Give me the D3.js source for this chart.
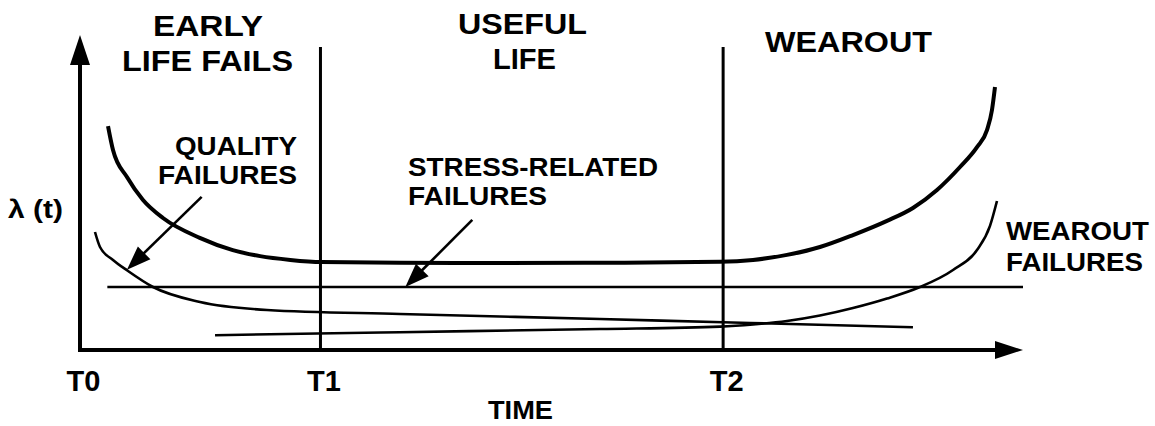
<!DOCTYPE html>
<html>
<head>
<meta charset="utf-8">
<script src="https://cdn.jsdelivr.net/npm/d3@7/dist/d3.min.js"></script>
<style>
  html, body { margin: 0; padding: 0; background: #fff; }
  svg { display: block; }
  text { font-family: "Liberation Sans", Arial, Helvetica, sans-serif; font-weight: bold; fill: #000; }
</style>
</head>
<body>
<svg id="chart" width="1155" height="426"></svg>
<script>
// Phase boundaries on the time axis
const phaseTicks = ["T0", "T1", "T2"];
const phaseTimes = [0, 25.5, 68.2];

// Overall failure rate (bathtub curve)
const bathtubT    = [2.97, 3.5, 4.98, 6.68, 8.8, 12.7, 16.2, 19.1, 22.3, 25.6, 33.93, 44.54, 55.14, 67.87, 71.37, 74.97, 78.47, 81.97, 85.58, 88.33, 90.88, 93.32, 95.12, 96.18, 96.71, 97.03];
const bathtubRate = [71.1, 63.5, 54.9, 47.6, 41.9, 35.6, 31.7, 29.8, 28.6, 27.9, 27.68, 27.62, 27.68, 28.0, 28.6, 30.2, 32.7, 36.5, 41.0, 45.1, 50.8, 58.1, 64.4, 69.8, 76.2, 83.5];

// Quality failures (decreasing)
const qualityT    = [1.59, 2.12, 3.5, 5.09, 7.74, 12.73, 19.83, 33.93, 55.14, 68.19, 76.35, 88.33];
const qualityRate = [37.46, 32.7, 28.57, 25.08, 20.0, 15.24, 12.7, 11.43, 9.84, 8.79, 8.16, 7.21];

// Stress-related failures (constant)
const stressT    = [2.9, 100];
const stressRate = [20, 20];

// Wearout failures (increasing)
const wearoutT    = [14.32, 33.93, 55.14, 67.87, 71.37, 74.97, 78.47, 81.97, 85.58, 89.08, 92.58, 95.12, 96.5, 97.24];
const wearoutRate = [4.70, 5.65, 6.67, 7.43, 8.10, 9.21, 10.95, 13.33, 16.35, 20.0, 25.4, 31.75, 39.4, 47.3];

// Annotation arrows: [fromT, fromRate, toT, toRate]
const qualityArrow = [12.9, 48.6, 4.98, 25.5];
const stressArrow  = [41.6, 41.3, 34.5, 20.0];

const svg = d3.select("#chart");
const x = d3.scaleLinear().domain([0, 100]).range([80, 1023]);
const y = d3.scaleLinear().domain([0, 100]).range([350, 35]);

const zip = (ts, vs) => ts.map((t, i) => [t, vs[i]]);
const line = d3.line().x(d => x(d[0])).y(d => y(d[1])).curve(d3.curveMonotoneX);

// Filled arrowhead pointing from (x1,y1) to tip (x2,y2)
function arrowHead(g, x1, y1, x2, y2, len, half) {
  const a = Math.atan2(y2 - y1, x2 - x1);
  const bx = x2 - len * Math.cos(a), by = y2 - len * Math.sin(a);
  const px = -Math.sin(a) * half, py = Math.cos(a) * half;
  g.append("path")
    .attr("d", `M${x2},${y2}L${bx + px},${by + py}L${bx - px},${by - py}Z`)
    .attr("fill", "#000");
}

// Phase divider lines
svg.selectAll("line.phase")
  .data(phaseTimes.slice(1))
  .join("line")
  .attr("class", "phase")
  .attr("x1", d => x(d)).attr("x2", d => x(d))
  .attr("y1", y(96.2)).attr("y2", y(0))
  .attr("stroke", "#000").attr("stroke-width", 3);

// Axes with arrowheads
const axes = svg.append("g");
axes.append("line").attr("x1", x(0)).attr("x2", x(100) - 20).attr("y1", y(0)).attr("y2", y(0))
  .attr("stroke", "#000").attr("stroke-width", 4);
arrowHead(axes, x(0), y(0), x(100), y(0), 28, 9);
axes.append("line").attr("x1", x(0)).attr("x2", x(0)).attr("y1", y(0) + 2).attr("y2", y(100) + 20)
  .attr("stroke", "#000").attr("stroke-width", 4);
arrowHead(axes, x(0), y(0), x(0), y(100), 30, 10);

// Tick labels T0, T1, T2
const xAxis = d3.axisBottom(x)
  .tickValues(phaseTimes)
  .tickFormat((d, i) => phaseTicks[i])
  .tickSize(0)
  .tickPadding(20);
const gx = svg.append("g").attr("transform", `translate(0,${y(0)})`).call(xAxis);
gx.select(".domain").remove();
gx.selectAll("text")
  .attr("dx", 3)
  .style("font-size", "29px")
  .style("font-family", "'Liberation Sans', Arial, sans-serif")
  .style("font-weight", "bold")
  .attr("fill", "#000");

// Curves
svg.append("path").datum(zip(stressT, stressRate)).attr("d", d3.line().x(d => x(d[0])).y(d => y(d[1])))
  .attr("fill", "none").attr("stroke", "#000").attr("stroke-width", 2.5);
svg.append("path").datum(zip(qualityT, qualityRate)).attr("d", line)
  .attr("fill", "none").attr("stroke", "#000").attr("stroke-width", 2.6);
svg.append("path").datum(zip(wearoutT, wearoutRate)).attr("d", line)
  .attr("fill", "none").attr("stroke", "#000").attr("stroke-width", 2.6);
svg.append("path").datum(zip(bathtubT, bathtubRate)).attr("d", line)
  .attr("fill", "none").attr("stroke", "#000").attr("stroke-width", 4);

// Annotation arrows
[qualityArrow, stressArrow].forEach(a => {
  const x1 = x(a[0]), y1 = y(a[1]), x2 = x(a[2]), y2 = y(a[3]);
  const ang = Math.atan2(y2 - y1, x2 - x1);
  svg.append("line")
    .attr("x1", x1).attr("y1", y1)
    .attr("x2", x2 - 18 * Math.cos(ang)).attr("y2", y2 - 18 * Math.sin(ang))
    .attr("stroke", "#000").attr("stroke-width", 2.6);
  arrowHead(svg, x1, y1, x2, y2, 24, 9);
});

// Labels: [text, left x, baseline y, width, font size]
const labels = [
  ["EARLY", 153, 36, 110, 29],
  ["LIFE FAILS", 122, 71, 171, 29],
  ["USEFUL", 458, 34, 129, 29],
  ["LIFE", 493, 69, 63, 29],
  ["WEAROUT", 765, 52, 167, 29],
  ["QUALITY", 175, 155, 122, 26],
  ["FAILURES", 158, 184, 139, 26],
  ["STRESS-RELATED", 408, 176, 250, 25],
  ["FAILURES", 408, 205, 139, 25],
  ["WEAROUT", 1006, 240, 143, 26],
  ["FAILURES", 1006, 271, 137, 26],
  ["λ (t)", 8, 218, 55, 25],
  ["TIME", 488, 419, 65, 26]
];
svg.selectAll("text.lbl")
  .data(labels)
  .join("text")
  .attr("class", "lbl")
  .attr("x", d => d[1])
  .attr("y", d => d[2])
  .attr("textLength", d => d[3])
  .attr("lengthAdjust", "spacingAndGlyphs")
  .style("font-size", d => d[4] + "px")
  .text(d => d[0]);
</script>
</body>
</html>
